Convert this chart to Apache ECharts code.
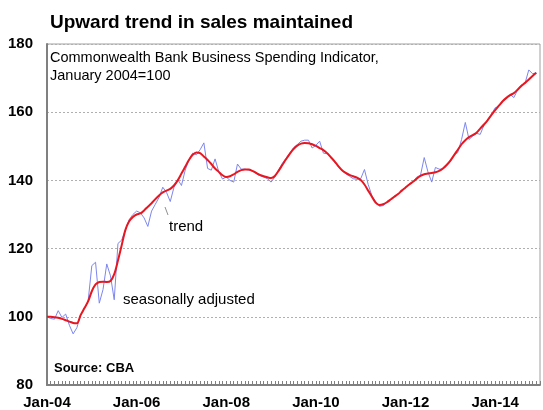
<!DOCTYPE html>
<html>
<head>
<meta charset="utf-8">
<script src="https://cdn.jsdelivr.net/npm/echarts@6/dist/echarts.min.js"></script>
<style>
html,body{margin:0;padding:0;background:#fff;}
#chart{width:543px;height:410px;}
</style>
</head>
<body>
<div id="chart"></div>
<script>
// Months since Jan-2004 (index 0 = Jan-04)
const tickLabels = ["Jan-04", "Jan-06", "Jan-08", "Jan-10", "Jan-12", "Jan-14"];
const yTicks = [80, 100, 120, 140, 160, 180];

const seasonallyAdjusted = [
  100, 99.5, 99.3, 101.8, 99.8, 100.8, 97.5, 95, 96.8, 100.5, 102.5, 104.5,
  115, 116, 104, 108, 115.5, 112, 105, 121.5, 122.5, 125.5, 128.5, 130,
  131, 130.5, 129, 126.5, 131, 133, 135, 138, 136.5, 133.8, 138, 140.3,
  138.5, 143, 146, 148, 147.5, 149, 151, 143.5, 143, 146.3, 142.5, 140.4,
  141, 140, 139.5, 144.8, 143.3, 143.3, 143, 142.8, 142, 141.4, 141, 140.5,
  139.5, 141, 143, 145, 146.5, 148, 149.5, 150.5, 151.5, 151.8, 151.8, 149.5,
  150.3, 151.5, 148, 147.8, 146.8, 145.4, 144, 142.8, 142, 141.2, 140.5, 140.3,
  140.5, 143.2, 138.8, 135.5, 133.8, 132.4, 132.6, 133.5, 134.2, 135.4, 136, 137.2,
  137.8, 139, 139.5, 141, 141.5, 146.7, 142.5, 139.5, 143.8, 143.3, 143.3, 144.3,
  145.5, 147.5, 148.2, 152, 157, 152, 153, 153.8, 153.5, 156.2, 157.6, 159.4,
  161.3, 161.8, 163.3, 164, 165.2, 164.3, 166.5, 168, 168.5, 172.4, 171.3, 171.5
];

const trend = [
  100, 100, 99.9, 99.7, 99.4, 99, 98.6, 98.2, 98.1, 100.5, 102.5, 104.5,
  107.5, 109.5, 110.2, 110.3, 110.2, 110.5, 112.5, 116.5, 121, 125.5, 128, 129.3,
  130, 130.3, 131.2, 132.3, 133.3, 134.5, 135.6, 136.5, 137, 137.5, 138.5, 140,
  142, 144, 146, 147.5, 148.2, 148, 147, 146, 144.8, 143.5, 142.5, 141.5,
  141, 141.2, 141.8, 142.5, 143, 143.2, 143.2, 142.8, 142.2, 141.6, 141.2, 140.9,
  140.7, 141.3, 142.8, 144.5, 146.2, 147.8, 149.2, 150.2, 150.8, 151, 150.9, 150.6,
  150.1, 149.5, 148.9, 148, 146.8, 145.6, 144.2, 143, 142.2, 141.6, 141.2, 140.8,
  140.1, 138.8, 137, 135.2, 133.5, 132.8, 133, 133.6, 134.4, 135.2, 136, 137,
  137.9, 138.8, 139.6, 140.5, 141.3, 141.8, 142, 142.2, 142.4, 142.8, 143.5, 144.5,
  145.8, 147.4, 149, 150.6, 151.8, 152.7, 153.3, 154, 155.2, 156.4, 157.7, 159.2,
  160.6, 161.9, 163.2, 164.2, 165, 165.6, 166.6, 167.7, 168.6, 169.6, 170.6, 171.6
];

const FONT = '"Liberation Sans", Arial, sans-serif';
const chart = echarts.init(document.getElementById('chart'), null, {renderer: 'canvas'});

const option = {
  animation: false,
  backgroundColor: '#ffffff',
  title: {
    text: 'Upward trend in sales maintained',
    left: 45, top: 8,
    textStyle: {fontFamily: FONT, fontSize: 19, fontWeight: 'bold', color: '#000'}
  },
  grid: {
    left: 47, right: 1, top: 44, bottom: 21,
    show: true, borderColor: '#a0a0a0', borderWidth: 1, containLabel: false
  },
  xAxis: {
    type: 'value', min: 0, max: 132, interval: 24,
    axisLine: {show: true, onZero: false, lineStyle: {color: '#808080', width: 2}},
    axisTick: {show: true, inside: true, length: 4, lineStyle: {color: '#808080'}},
    minorTick: {show: true, splitNumber: 24, length: 4, lineStyle: {color: '#808080'}},
    splitLine: {show: false},
    axisLabel: {
      margin: 10, color: '#000', fontFamily: FONT, fontSize: 15, fontWeight: 'bold',
      formatter: v => tickLabels[Math.round(v / 24)] || ''
    }
  },
  yAxis: {
    type: 'value', min: yTicks[0], max: yTicks[yTicks.length - 1], interval: 20,
    axisLine: {show: true, lineStyle: {color: '#808080', width: 2}},
    axisTick: {show: false},
    splitLine: {show: true, lineStyle: {color: '#b0b0b0', type: [2, 2], width: 1}},
    axisLabel: {margin: 14, color: '#000', fontFamily: FONT, fontSize: 15, fontWeight: 'bold'}
  },
  series: [
    {
      name: 'seasonally adjusted', type: 'line', showSymbol: false, symbol: 'none',
      lineStyle: {color: '#7d87ee', width: 1}, z: 2,
      data: seasonallyAdjusted.map((v, i) => [i, v])
    },
    {
      name: 'trend', type: 'line', showSymbol: false, symbol: 'none', smooth: 0.3,
      lineStyle: {color: '#e8161f', width: 2}, z: 3,
      data: trend.map((v, i) => [i, v])
    }
  ],
  graphic: [
    {type: 'text', left: 50, top: 50, style: {text: 'Commonwealth Bank Business Spending Indicator,', font: '14.5px ' + FONT, fill: '#000'}},
    {type: 'text', left: 50, top: 68, style: {text: 'January 2004=100', font: '14.5px ' + FONT, fill: '#000'}},
    {type: 'text', left: 169, top: 219, style: {text: 'trend', font: '15px ' + FONT, fill: '#000'}},
    {type: 'line', shape: {x1: 165, y1: 207, x2: 168, y2: 215}, style: {stroke: '#909090', lineWidth: 1}},
    {type: 'text', left: 123, top: 292, style: {text: 'seasonally adjusted', font: '15px ' + FONT, fill: '#000'}},
    {type: 'text', left: 54, top: 362, style: {text: 'Source: CBA', font: 'bold 13px ' + FONT, fill: '#000'}}
  ]
};
chart.setOption(option);
</script>
</body>
</html>
